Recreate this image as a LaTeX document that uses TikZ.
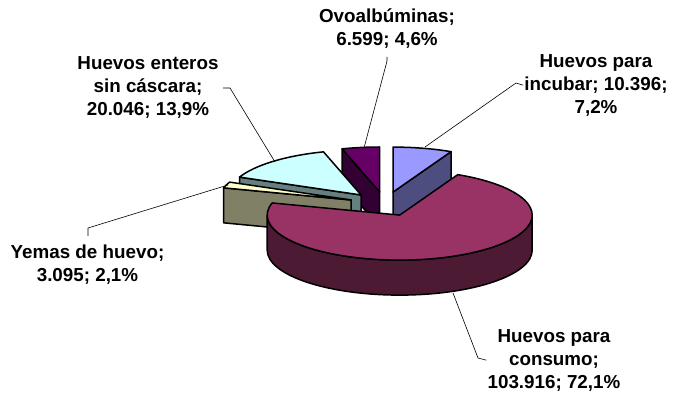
\documentclass[tikz,border=0pt]{standalone}
\usepackage{fontspec}
\setmainfont{Liberation Sans}
\usepackage{tikz}

\definecolor{incubartop}{HTML}{9999FF}
\definecolor{incubarside}{HTML}{4D4D80}
\definecolor{consumotop}{HTML}{993366}
\definecolor{consumoside}{HTML}{4D1A33}
\definecolor{yemastop}{HTML}{FFFFCC}
\definecolor{yemasside}{HTML}{808066}
\definecolor{enterostop}{HTML}{CCFFFF}
\definecolor{enterosside}{HTML}{668080}
\definecolor{ovotop}{HTML}{660066}
\definecolor{ovoside}{HTML}{330033}

\newcommand{\pierx}{132.5pt}
\newcommand{\piery}{45pt}
\newcommand{\piedepth}{35pt}

\tikzset{
  slice/.style={draw=black,line width=1.5pt,line join=round},
  leader/.style={draw=black,line width=0.6pt},
  lbl/.style={align=center,inner sep=1pt,font=\fontsize{18.8}{23}\selectfont\bfseries}
}

\begin{document}
\begin{tikzpicture}[x=1pt,y=1pt]
\useasboundingbox (0,0) rectangle (674,393);

% Ovoalbuminas
\begin{scope}[shift={(379.7,201.0)}]
  \filldraw[slice,fill=ovoside] (0,0) -- (106.49:132.5pt and 45pt) -- ++(0,-\piedepth) -- (0,-\piedepth) -- cycle;
  \filldraw[slice,fill=ovotop] (0,0) -- (90:132.5pt and 45pt)
    arc[start angle=90,end angle=106.49,x radius=\pierx,y radius=\piery] -- cycle;
\end{scope}

% Huevos para incubar
\begin{scope}[shift={(393.0,200.9)}]
  \filldraw[slice,fill=incubarside] (0,0) -- (64.02:132.5pt and 45pt) -- ++(0,-\piedepth) -- (0,-\piedepth) -- cycle;
  \filldraw[slice,fill=incubartop] (0,0) -- (64.02:132.5pt and 45pt)
    arc[start angle=64.02,end angle=90,x radius=\pierx,y radius=\piery] -- cycle;
\end{scope}

% Huevos enteros sin cascara
\begin{scope}[shift={(361.1,198.0)}]
  \filldraw[slice,fill=enterosside] (0,0) -- (156.59:132.5pt and 45pt) -- ++(0,-\piedepth) -- (0,-\piedepth) -- cycle;
  \filldraw[slice,fill=enterostop] (0,0) -- (106.49:132.5pt and 45pt)
    arc[start angle=106.49,end angle=156.59,x radius=\pierx,y radius=\piery] -- cycle;
\end{scope}

% Yemas de huevo
\begin{scope}[shift={(351.2,193.0)}]
  \filldraw[slice,fill=yemasside] (0,0) -- (164.32:132.5pt and 45pt) -- ++(0,-\piedepth) -- (0,-\piedepth) -- cycle;
  \filldraw[slice,fill=yemastop] (0,0) -- (156.59:132.5pt and 45pt)
    arc[start angle=156.59,end angle=164.32,x radius=\pierx,y radius=\piery] -- cycle;
\end{scope}

% Huevos para consumo
\begin{scope}[shift={(399.7,177.9)}]
  \filldraw[slice,fill=consumoside] (180:132.5pt and 45pt)
    arc[start angle=180,end angle=360,x radius=\pierx,y radius=\piery] -- ++(0,-\piedepth)
    arc[start angle=360,end angle=180,x radius=\pierx,y radius=\piery] -- cycle;
  \filldraw[slice,fill=consumotop] (0,0) -- (164.32:132.5pt and 45pt)
    arc[start angle=164.32,end angle=424.02,x radius=\pierx,y radius=\piery] -- cycle;
\end{scope}

% labels
\node[lbl] (lblovo) at (387,364) {Ovoalbúminas;\\6.599; 4,6\%};
\node[lbl] (lblincubar) at (596,307.8) {Huevos para\\incubar; 10.396;\\7,2\%};
\node[lbl] (lblenteros) at (148,305.8) {Huevos enteros\\sin cáscara;\\20.046; 13,9\%};
\node[lbl] (lblyemas) at (87.5,128) {Yemas de huevo;\\3.095; 2,1\%};
\node[lbl] (lblconsumo) at (554,32.8) {Huevos para\\consumo;\\103.916; 72,1\%};

% leader lines
\coordinate (ovostart) at (387,336);
\coordinate (ovobend) at (387,332);
\coordinate (ovotip) at (364,245);
\coordinate (incubarbend) at (516,310);
\coordinate (incubartip) at (425,246);
\coordinate (enterosstart) at (223,305);
\coordinate (enterosbend) at (230,305);
\coordinate (enterostip) at (275,231);
\coordinate (yemasstart) at (88,157);
\coordinate (yemasbend) at (88,165);
\coordinate (yemastip) at (228,208);
\coordinate (consumobend) at (478,35);
\coordinate (consumotip) at (453,100);

\draw[leader] (ovostart) -- (ovobend) -- (ovotip);
\draw[leader] (lblincubar.west) -- (incubarbend) -- (incubartip);
\draw[leader] (enterosstart) -- (enterosbend) -- (enterostip);
\draw[leader] (yemasstart) -- (yemasbend) -- (yemastip);
\draw[leader] (lblconsumo.west) -- (consumobend) -- (consumotip);
\end{tikzpicture}
\end{document}
